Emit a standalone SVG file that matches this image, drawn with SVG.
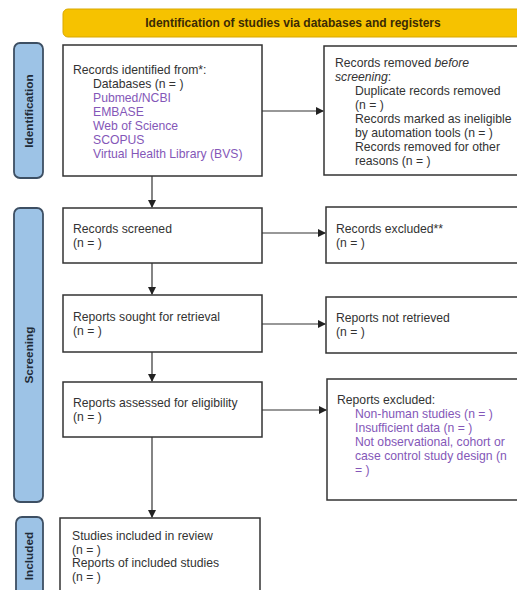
<svg xmlns="http://www.w3.org/2000/svg" width="517" height="590" viewBox="0 0 517 590">
<defs>
<marker id="ah" markerWidth="8" markerHeight="8" refX="7" refY="4" orient="auto" markerUnits="userSpaceOnUse">
<path d="M0,0 L8,4 L0,8 Z" fill="#222"/>
</marker>
<style>
.box{fill:#fff;stroke:#333;stroke-width:1.5}
.side{fill:#9DC3E6;stroke:#3d4f63;stroke-width:1.8}
.t{font-family:"Liberation Sans",Arial,sans-serif;font-size:12.2px;fill:#333}
.p{fill:#8457B8}
.st{font-family:"Liberation Sans",Arial,sans-serif;font-size:11.8px;font-weight:bold;fill:#1f2b38}
.hd{font-family:"Liberation Sans",Arial,sans-serif;font-size:12px;font-weight:bold;fill:#3a2a05}
.c{stroke:#333;stroke-width:1.2;fill:none;marker-end:url(#ah)}
</style>
</defs>
<rect width="517" height="590" fill="#fff"/>
<g id="header">
<rect x="63" y="9" width="470" height="28" rx="5" fill="#F6C200" stroke="#D9A800" stroke-width="1"/>
<text class="hd" x="293" y="27" text-anchor="middle">Identification of studies via databases and registers</text>
</g>
<g id="side-identification">
<rect class="side" x="14" y="43" width="29" height="135" rx="6"/>
<text class="st" transform="translate(33,111) rotate(-90)" text-anchor="middle">Identification</text>
</g>
<g id="side-screening">
<rect class="side" x="14" y="208" width="29" height="294" rx="6"/>
<text class="st" transform="translate(33,355) rotate(-90)" text-anchor="middle">Screening</text>
</g>
<g id="side-included">
<rect class="side" x="16" y="517" width="27" height="90" rx="6"/>
<text class="st" transform="translate(33,556) rotate(-90)" text-anchor="middle">Included</text>
</g>
<g id="records-identified">
<rect class="box" x="63" y="45" width="199" height="131"/>
<text class="t" x="73" y="74">Records identified from*:</text>
<text class="t" x="93" y="88">Databases (n = )</text>
<text class="t p" x="93" y="102">Pubmed/NCBI</text>
<text class="t p" x="93" y="116">EMBASE</text>
<text class="t p" x="93" y="130">Web of Science</text>
<text class="t p" x="93" y="144">SCOPUS</text>
<text class="t p" x="93" y="158">Virtual Health Library (BVS)</text>
</g>
<g id="records-removed">
<rect class="box" x="324" y="46" width="210" height="129"/>
<text class="t" x="335" y="67">Records removed <tspan font-style="italic">before</tspan></text>
<text class="t" x="335" y="81"><tspan font-style="italic">screening</tspan>:</text>
<text class="t" x="355" y="95">Duplicate records removed</text>
<text class="t" x="355" y="109">(n = )</text>
<text class="t" x="355" y="123">Records marked as ineligible</text>
<text class="t" x="355" y="137">by automation tools (n = )</text>
<text class="t" x="355" y="151">Records removed for other</text>
<text class="t" x="355" y="165">reasons (n = )</text>
</g>
<g id="records-screened">
<rect class="box" x="63" y="208" width="199" height="55"/>
<text class="t" x="73" y="233">Records screened</text>
<text class="t" x="73" y="247">(n = )</text>
</g>
<g id="records-excluded">
<rect class="box" x="326" y="207" width="210" height="56"/>
<text class="t" x="336" y="233">Records excluded**</text>
<text class="t" x="336" y="247">(n = )</text>
</g>
<g id="reports-sought">
<rect class="box" x="63" y="295" width="199" height="57"/>
<text class="t" x="73" y="321">Reports sought for retrieval</text>
<text class="t" x="73" y="335">(n = )</text>
</g>
<g id="reports-not-retrieved">
<rect class="box" x="326" y="297" width="210" height="56"/>
<text class="t" x="336" y="322">Reports not retrieved</text>
<text class="t" x="336" y="336">(n = )</text>
</g>
<g id="reports-assessed">
<rect class="box" x="63" y="382" width="199" height="55"/>
<text class="t" x="73" y="407">Reports assessed for eligibility</text>
<text class="t" x="73" y="421">(n = )</text>
</g>
<g id="reports-excluded">
<rect class="box" x="327" y="379" width="210" height="121"/>
<text class="t" x="337" y="404">Reports excluded:</text>
<text class="t p" x="355" y="418">Non-human studies (n = )</text>
<text class="t p" x="355" y="432">Insufficient data (n = )</text>
<text class="t p" x="355" y="446">Not observational, cohort or</text>
<text class="t p" x="355" y="460">case control study design (n</text>
<text class="t p" x="355" y="474">= )</text>
</g>
<g id="studies-included">
<rect class="box" x="60" y="518" width="200" height="90"/>
<text class="t" x="72" y="540">Studies included in review</text>
<text class="t" x="72" y="554">(n = )</text>
<text class="t" x="72" y="567">Reports of included studies</text>
<text class="t" x="72" y="581">(n = )</text>
</g>
<g id="connectors">
<line class="c" x1="262" y1="111" x2="323" y2="111"/>
<line class="c" x1="152" y1="176" x2="152" y2="207"/>
<line class="c" x1="262" y1="233" x2="325" y2="233"/>
<line class="c" x1="152" y1="263" x2="152" y2="294"/>
<line class="c" x1="262" y1="324" x2="325" y2="324"/>
<line class="c" x1="152" y1="352" x2="152" y2="381"/>
<line class="c" x1="262" y1="410" x2="326" y2="410"/>
<line class="c" x1="152" y1="437" x2="152" y2="517"/>
</g>
</svg>
